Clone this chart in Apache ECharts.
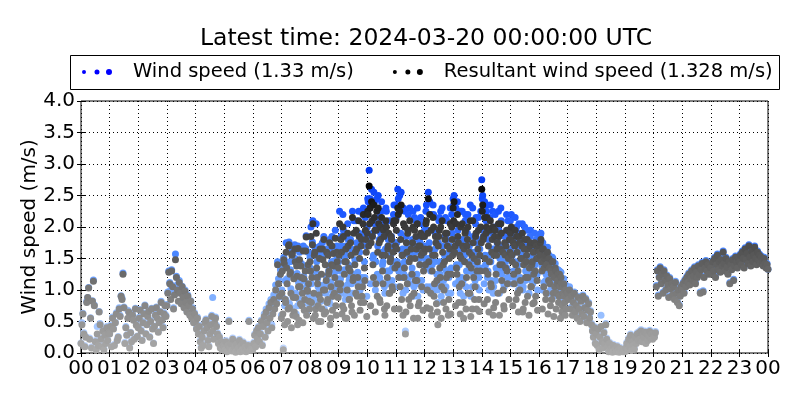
<!DOCTYPE html>
<html>
<head>
<meta charset="utf-8">
<script src="https://cdn.jsdelivr.net/npm/echarts@6/dist/echarts.min.js"></script>
<style>html,body{margin:0;padding:0;background:#fff}#c{width:800px;height:400px}</style>
</head>
<body>
<div id="c"></div>
<script>
// Sampling step of the readings (minutes), starting at 00:00
const stepMinutes = 2;
// Extra readings at the odd minutes of the busy daytime hours (07:01 ... 16:59)
const oddStartHour = 7;
const hourTickLabels = ['00','01','02','03','04','05','06','07','08','09','10','11','12','13','14','15','16','17','18','19','20','21','22','23','00'];
const titleText = 'Latest time: 2024-03-20 00:00:00 UTC';
const windName = 'Wind speed (1.33 m/s)';
const resultantName = 'Resultant wind speed (1.328 m/s)';

// Wind speed (m/s), every 2 minutes, one row per hour (00 ... 23), then 24:00
const windSpeed = [
  0.16,0.48,0.63,0.32,0.12,0.26,0.82,0.88,1.04,0.24,0.56,0.10,0.83,1.16,0.76,0.20,0.07,0.42,0.13,0.66,0.47,0.23,0.12,0.36,0.07,0.30,0.16,0.42,0.21,0.33,
  0.31,0.44,0.12,0.57,0.39,0.14,0.49,0.64,0.22,0.26,0.72,0.60,0.91,0.87,1.27,0.73,0.17,0.42,0.29,0.68,0.66,0.10,0.33,0.20,0.62,0.53,0.24,0.71,0.46,0.27,
  0.41,0.57,0.69,0.37,0.21,0.50,0.63,0.76,0.31,0.47,0.60,0.67,0.26,0.52,0.71,0.40,0.16,0.43,0.62,0.73,0.68,0.34,0.50,0.66,0.82,0.53,0.42,0.64,0.76,0.60,
  0.77,0.97,1.30,1.12,1.00,1.32,1.07,0.72,0.93,1.57,1.22,1.02,1.10,1.15,0.97,0.80,1.06,0.90,0.74,1.00,0.82,0.67,0.92,0.77,0.62,0.83,0.57,0.72,0.50,0.64,
  0.52,0.40,0.57,0.32,0.44,0.20,0.10,0.27,0.14,0.37,0.50,0.54,0.42,0.22,0.12,0.32,0.47,0.60,0.88,0.24,0.50,0.57,0.44,0.32,0.17,0.27,0.10,0.20,0.07,0.14,
  0.12,0.07,0.20,0.04,0.14,0.52,0.10,0.17,0.05,0.24,0.08,0.12,0.03,0.16,0.06,0.10,0.22,0.04,0.14,0.07,0.18,0.05,0.11,0.04,0.08,0.14,0.52,0.06,0.12,0.09,
  0.07,0.17,0.30,0.12,0.37,0.24,0.42,0.20,0.32,0.52,0.14,0.44,0.62,0.27,0.70,0.52,0.38,0.78,0.60,0.85,0.45,0.68,0.92,0.76,1.08,0.85,1.45,1.18,0.98,1.32,
  0.60,1.35,0.08,1.48,1.15,1.75,1.18,0.78,1.76,1.45,1.02,1.62,0.90,1.25,1.72,0.95,1.46,0.75,1.12,1.60,0.85,1.42,1.02,1.70,0.98,1.38,1.86,1.08,1.60,0.90,
  1.52,2.00,1.28,2.10,1.25,1.68,0.78,1.45,1.18,0.85,1.58,0.95,1.50,1.75,1.08,0.70,1.62,1.22,1.10,1.65,1.38,0.78,1.12,1.85,0.98,1.46,1.28,1.05,1.70,1.18,
  1.45,2.25,1.18,1.70,1.05,1.95,1.32,0.85,1.55,1.08,1.80,1.15,1.38,1.65,0.95,1.22,2.10,1.48,1.25,1.75,1.28,2.25,1.60,1.10,1.88,1.12,2.30,1.45,2.15,1.70,
  2.00,2.40,2.90,2.45,1.85,2.35,1.50,2.55,2.05,1.45,2.45,1.70,2.15,1.20,1.90,2.40,1.40,2.05,1.05,1.65,2.25,1.30,1.80,1.30,1.55,2.10,1.15,1.70,2.35,1.45,
  2.35,1.75,2.60,1.30,2.50,1.90,1.20,1.65,2.30,1.45,0.35,1.85,1.20,2.20,1.55,1.10,1.75,1.35,2.25,1.05,1.60,2.10,1.25,0.90,1.80,1.50,2.15,1.15,1.70,1.40,
  1.95,1.50,2.35,1.35,2.55,1.75,1.05,2.20,1.40,2.35,1.00,1.65,1.85,1.25,0.80,2.10,1.45,2.25,1.15,1.70,1.15,1.55,2.15,1.30,1.80,0.95,1.60,2.30,1.35,1.90,
  2.45,2.50,1.80,2.30,1.35,1.95,1.15,1.65,2.25,1.20,1.80,0.90,1.55,2.20,1.30,1.90,1.30,1.70,2.35,1.45,1.05,1.85,1.60,1.15,2.15,1.40,1.75,1.20,1.65,2.25,
  2.75,2.50,1.95,2.40,1.40,2.25,1.20,1.80,1.55,2.35,1.15,1.90,0.95,1.65,2.20,1.35,1.75,1.30,1.95,1.50,2.30,1.25,1.70,1.10,1.85,1.45,2.20,1.20,1.60,1.90,
  2.10,2.20,1.55,1.85,1.20,2.15,1.20,1.70,1.40,2.05,1.10,1.60,1.80,1.00,1.50,2.00,1.30,1.65,1.25,1.75,1.45,1.95,1.15,1.55,1.70,1.15,1.40,1.80,1.25,1.60,
  1.85,1.62,1.90,1.38,1.75,1.12,1.58,1.15,1.48,1.68,1.22,1.42,1.00,1.32,1.52,1.02,1.28,1.42,0.95,1.18,1.32,0.98,1.12,1.28,0.90,1.02,1.18,0.88,1.08,0.98,
  0.97,0.87,1.05,0.72,0.92,0.75,0.82,0.97,0.67,0.77,0.57,0.90,0.72,0.52,0.84,0.64,0.92,0.60,0.74,0.87,0.50,0.70,0.80,0.57,0.67,0.47,0.37,0.27,0.42,0.17,
  0.32,0.14,0.40,0.07,0.27,0.60,0.20,0.10,0.34,0.17,0.47,0.24,0.12,0.04,0.17,0.07,0.10,0.03,0.14,0.05,0.08,0.04,0.12,0.06,0.03,0.09,0.05,0.07,0.04,0.06,
  0.04,0.10,0.17,0.07,0.24,0.12,0.30,0.06,0.20,0.14,0.08,0.27,0.17,0.32,0.22,0.34,0.24,0.37,0.20,0.30,0.27,0.35,0.17,0.32,0.22,0.29,0.36,0.26,0.32,0.24,
  0.32,0.27,0.34,1.07,1.32,0.92,1.22,1.37,1.12,1.27,0.97,1.32,1.17,1.02,1.24,1.10,0.90,1.20,1.04,1.12,0.94,1.07,0.87,1.14,0.97,0.82,1.02,0.77,0.92,1.07,
  1.02,1.12,0.97,1.17,1.07,1.22,1.14,1.27,1.10,1.20,1.32,1.17,1.24,1.37,1.12,1.30,1.22,1.40,1.27,0.97,1.34,1.44,0.99,1.22,1.37,1.47,1.32,1.42,1.27,1.40,
  1.37,1.27,1.47,1.32,1.52,1.22,1.42,1.57,1.34,1.47,1.30,1.50,1.40,1.62,1.44,1.32,1.52,1.38,1.27,1.47,1.12,1.42,1.34,1.50,1.17,1.40,1.54,1.46,1.37,1.52,
  1.47,1.57,1.42,1.62,1.52,1.37,1.67,1.50,1.60,1.44,1.72,1.54,1.40,1.64,1.47,1.57,1.70,1.52,1.42,1.62,1.49,1.57,1.44,1.54,1.47,1.40,1.52,1.44,1.37,1.42,
  1.33
];

// Resultant wind speed (m/s), every 2 minutes, one row per hour (00 ... 23), then 24:00
const resultantSpeed = [
  0.15,0.45,0.62,0.30,0.10,0.25,0.80,0.88,1.03,0.22,0.55,0.08,0.82,1.14,0.75,0.18,0.05,0.30,0.12,0.65,0.45,0.22,0.10,0.35,0.05,0.28,0.15,0.40,0.20,0.32,
  0.30,0.42,0.10,0.55,0.38,0.12,0.48,0.62,0.20,0.25,0.70,0.58,0.90,0.85,1.25,0.72,0.15,0.40,0.28,0.55,0.65,0.08,0.32,0.18,0.60,0.52,0.22,0.70,0.44,0.26,
  0.40,0.55,0.68,0.35,0.20,0.48,0.62,0.75,0.30,0.45,0.58,0.66,0.25,0.50,0.70,0.38,0.15,0.42,0.60,0.72,0.55,0.33,0.48,0.65,0.80,0.52,0.40,0.62,0.75,0.58,
  0.75,0.95,1.28,1.10,0.85,1.30,1.05,0.70,0.92,1.48,1.20,1.00,0.82,1.12,0.95,0.78,1.05,0.88,0.72,0.98,0.80,0.65,0.90,0.75,0.60,0.82,0.55,0.70,0.48,0.62,
  0.50,0.38,0.55,0.30,0.42,0.18,0.08,0.25,0.12,0.35,0.48,0.52,0.40,0.20,0.10,0.30,0.45,0.58,0.35,0.22,0.48,0.55,0.42,0.30,0.15,0.25,0.08,0.18,0.05,0.12,
  0.10,0.05,0.18,0.02,0.12,0.50,0.08,0.15,0.03,0.22,0.06,0.10,0.01,0.14,0.04,0.08,0.20,0.02,0.12,0.05,0.16,0.03,0.09,0.02,0.06,0.12,0.50,0.04,0.10,0.07,
  0.05,0.15,0.28,0.10,0.35,0.22,0.40,0.18,0.30,0.50,0.12,0.42,0.58,0.25,0.65,0.48,0.35,0.72,0.55,0.80,0.40,0.62,0.85,0.70,1.00,0.78,1.40,1.10,0.90,1.25,
  0.55,1.30,0.05,1.42,0.85,1.60,1.10,0.70,1.72,1.25,0.95,1.55,0.60,1.18,1.65,0.88,1.38,0.45,1.05,1.48,0.78,1.20,0.95,1.62,0.68,1.30,1.84,1.00,1.40,0.82,
  1.45,1.85,1.20,2.05,0.95,1.60,0.70,1.35,1.10,0.50,1.50,0.85,1.25,1.65,1.00,0.62,1.40,1.15,0.80,1.55,1.30,0.45,1.05,1.70,0.90,1.38,1.20,0.75,1.60,1.10,
  1.35,2.05,1.10,1.60,0.75,1.85,1.25,0.55,1.45,1.00,1.70,0.85,1.30,1.55,0.65,1.15,1.90,1.40,0.95,1.65,1.20,2.10,1.50,0.80,1.80,1.05,2.20,1.35,1.95,1.60,
  1.90,2.20,2.65,2.30,1.75,2.10,1.40,2.35,1.95,1.10,2.25,1.60,2.05,0.85,1.80,2.15,1.30,1.95,0.70,1.55,2.00,1.20,1.70,0.95,1.45,1.85,1.05,1.60,2.10,1.35,
  2.10,1.65,2.30,1.20,2.25,1.80,0.85,1.55,2.05,1.35,0.30,1.75,1.10,1.95,1.45,0.75,1.65,1.25,2.00,0.95,1.50,1.85,1.15,0.55,1.70,1.40,1.90,1.05,1.60,1.30,
  1.85,1.40,2.10,1.00,2.45,1.65,0.70,1.95,1.30,2.15,0.90,1.55,1.75,1.15,0.45,1.85,1.35,2.00,1.05,1.60,0.80,1.45,1.90,1.20,1.70,0.60,1.50,2.05,1.25,1.80,
  2.30,2.40,1.70,2.05,1.25,1.85,0.80,1.55,2.00,1.10,1.70,0.55,1.45,1.95,1.20,1.80,0.95,1.60,2.10,1.35,0.70,1.75,1.50,1.05,1.90,1.30,1.65,0.85,1.55,2.00,
  2.60,2.35,1.85,2.15,1.30,2.00,0.85,1.70,1.45,2.10,1.05,1.80,0.60,1.55,1.95,1.25,1.65,0.95,1.85,1.40,2.05,1.15,1.60,0.75,1.75,1.35,1.95,1.10,1.50,1.80,
  1.90,2.00,1.45,1.75,1.10,1.95,0.85,1.60,1.30,1.85,1.00,1.50,1.70,0.65,1.40,1.80,1.20,1.55,0.90,1.65,1.35,1.75,1.05,1.45,1.60,0.80,1.30,1.70,1.15,1.50,
  1.70,1.55,1.80,1.30,1.65,1.05,1.50,0.85,1.40,1.60,1.15,1.35,0.75,1.25,1.45,0.95,1.20,1.35,0.70,1.10,1.25,0.90,1.05,1.20,0.65,0.95,1.10,0.80,1.00,0.90,
  0.95,0.85,1.00,0.70,0.90,0.60,0.80,0.95,0.65,0.75,0.55,0.88,0.70,0.50,0.82,0.62,0.90,0.58,0.72,0.85,0.48,0.68,0.78,0.55,0.65,0.45,0.35,0.25,0.40,0.15,
  0.30,0.12,0.38,0.05,0.25,0.42,0.18,0.08,0.32,0.15,0.45,0.22,0.10,0.02,0.15,0.05,0.08,0.01,0.12,0.03,0.06,0.02,0.10,0.04,0.01,0.07,0.03,0.05,0.02,0.04,
  0.02,0.08,0.15,0.05,0.22,0.10,0.28,0.04,0.18,0.12,0.06,0.25,0.15,0.30,0.20,0.32,0.22,0.35,0.18,0.28,0.25,0.33,0.15,0.30,0.20,0.27,0.34,0.24,0.30,0.22,
  0.30,0.25,0.32,1.05,1.30,0.90,1.20,1.35,1.10,1.25,0.95,1.30,1.15,1.00,1.22,1.08,0.88,1.18,1.02,1.10,0.92,1.05,0.85,1.12,0.95,0.80,1.00,0.75,0.90,1.05,
  1.00,1.10,0.95,1.15,1.05,1.20,1.12,1.25,1.08,1.18,1.30,1.15,1.22,1.35,1.10,1.28,1.20,1.38,1.25,0.95,1.32,1.42,0.97,1.20,1.35,1.45,1.30,1.40,1.25,1.38,
  1.35,1.25,1.45,1.30,1.50,1.20,1.40,1.55,1.32,1.45,1.28,1.48,1.38,1.60,1.42,1.30,1.50,1.36,1.25,1.45,1.10,1.40,1.32,1.48,1.15,1.38,1.52,1.44,1.35,1.50,
  1.45,1.55,1.40,1.60,1.50,1.35,1.65,1.48,1.58,1.42,1.70,1.52,1.38,1.62,1.45,1.55,1.68,1.50,1.40,1.60,1.47,1.55,1.42,1.52,1.45,1.38,1.50,1.42,1.35,1.40,
  1.328
];

// Wind speed (m/s) at the odd minutes 07:01 ... 16:59, one row per hour
const windSpeedOddMinutes = [
  1.00,0.88,1.52,0.75,0.85,1.40,0.80,1.74,0.78,1.32,0.72,1.62,0.92,0.95,1.50,0.62,1.26,1.70,0.85,1.10,1.42,0.80,0.78,1.22,1.15,1.66,0.65,1.02,1.35,0.75,
  1.35,1.10,1.76,0.85,1.60,0.92,2.05,1.25,1.05,0.97,1.70,0.82,1.00,1.52,1.85,1.05,0.95,1.65,1.15,1.30,1.80,0.88,1.45,0.98,1.62,1.00,1.95,0.92,1.50,0.93,
  1.60,1.30,1.85,0.95,2.20,1.05,1.50,1.70,0.90,2.05,1.40,1.20,1.80,1.10,2.25,1.25,0.95,1.65,2.10,1.25,1.10,1.90,1.00,1.75,1.20,2.20,1.15,1.20,1.85,0.90,
  2.45,1.75,2.30,1.10,2.60,1.90,1.55,2.40,1.00,2.00,1.25,2.50,1.80,1.15,2.25,1.60,1.45,1.90,0.95,2.30,1.10,1.70,2.10,1.30,1.55,1.85,1.35,2.20,1.05,1.75,
  2.15,1.45,2.45,1.05,1.40,2.55,1.60,0.95,1.25,2.25,1.00,1.65,1.95,1.20,2.30,1.55,1.25,1.80,0.90,2.15,1.20,1.70,2.30,1.10,1.15,1.75,1.60,2.05,1.00,1.65,
  1.70,2.25,1.05,1.95,1.50,2.40,1.30,0.95,1.60,2.20,1.45,1.90,1.10,1.00,1.75,2.15,1.25,0.90,2.30,1.45,1.35,1.85,1.05,2.10,1.30,1.20,1.70,0.95,2.20,1.60,
  2.35,1.65,1.10,1.40,2.40,1.80,1.40,0.95,1.55,2.25,1.15,1.70,2.10,1.05,1.75,2.20,1.45,1.30,0.90,1.60,2.30,1.25,1.20,2.05,1.05,1.50,2.15,1.00,1.35,1.80,
  2.45,1.85,1.10,1.55,2.10,2.35,1.30,1.00,2.15,1.45,1.65,2.25,1.05,2.00,1.15,1.60,1.80,2.25,0.95,1.70,2.10,1.45,1.35,1.05,1.60,1.75,1.35,2.10,1.20,1.65,
  1.95,1.60,1.10,1.30,1.75,1.45,2.00,1.30,1.00,1.90,1.20,1.55,2.05,1.05,1.70,1.15,1.50,1.95,1.25,0.95,1.85,1.40,1.45,1.10,1.30,1.90,1.25,1.55,1.00,1.70,
  1.65,1.88,1.50,1.00,1.70,1.40,1.60,1.25,1.45,0.95,1.55,1.40,1.35,1.15,1.50,0.90,1.35,1.35,1.25,1.20,1.10,1.30,0.85,1.15,1.00,1.10,0.98,0.90,0.95,1.00
];

// Resultant wind speed (m/s) at the odd minutes 07:01 ... 16:59, one row per hour
const resultantSpeedOddMinutes = [
  0.95,0.62,1.48,0.45,0.80,1.35,0.50,1.70,0.72,1.28,0.40,1.58,0.88,0.65,1.45,0.58,1.22,1.66,0.52,1.05,1.38,0.75,0.48,1.18,0.85,1.62,0.60,0.98,1.10,0.70,
  1.30,0.80,1.72,0.55,1.55,0.60,1.90,1.20,0.75,0.92,1.65,0.50,0.70,1.48,1.80,1.00,0.65,1.60,0.85,1.25,1.75,0.55,1.40,0.68,1.58,0.95,1.82,0.60,1.45,0.88,
  1.55,1.00,1.80,0.62,2.00,0.70,1.45,1.65,0.55,1.90,1.35,0.85,1.75,0.75,2.15,1.20,0.60,1.60,1.95,0.90,1.05,1.85,0.68,1.70,0.90,2.05,0.80,1.15,1.80,0.58,
  2.25,1.70,2.05,0.75,2.40,1.85,1.20,2.15,0.65,1.95,0.90,2.30,1.75,0.80,2.00,1.55,1.10,1.85,0.60,2.10,0.75,1.65,1.90,0.95,1.50,1.80,1.00,2.05,0.70,1.70,
  1.95,1.40,2.20,0.70,1.05,2.35,1.55,0.60,1.20,2.00,0.65,1.60,1.90,0.85,2.10,1.50,0.90,1.75,0.55,1.95,1.15,1.65,2.05,0.75,0.80,1.70,1.55,1.85,0.68,1.60,
  1.65,2.05,0.72,1.90,1.45,2.20,0.95,0.60,1.55,2.00,1.10,1.85,0.78,0.65,1.70,1.95,1.20,0.55,2.10,1.40,1.00,1.80,0.70,1.90,1.25,0.85,1.65,0.62,2.00,1.55,
  2.10,1.60,0.75,1.35,2.20,1.75,1.05,0.62,1.50,2.05,0.80,1.65,1.90,0.70,1.70,2.00,1.40,0.95,0.58,1.55,2.10,1.20,0.85,1.85,0.70,1.45,1.95,0.66,1.30,1.75,
  2.25,1.80,0.78,1.50,1.90,2.15,1.25,0.65,1.95,1.10,1.60,2.00,0.72,1.85,0.80,1.55,1.75,2.05,0.60,1.65,1.90,1.40,1.00,0.70,1.55,1.70,1.30,1.95,0.85,1.60,
  1.80,1.55,0.75,1.25,1.70,1.40,1.85,0.95,0.65,1.75,1.15,1.50,1.90,0.70,1.65,0.80,1.45,1.80,1.20,0.60,1.70,1.05,1.40,0.78,1.25,1.75,0.90,1.50,0.68,1.65,
  1.60,1.75,1.45,0.70,1.65,1.35,1.55,0.95,1.40,0.62,1.50,1.10,1.30,0.85,1.45,0.58,1.05,1.30,0.95,1.15,0.80,1.25,0.55,1.10,0.75,1.05,0.90,0.60,0.70,0.95
];

function toPoints(values) {
  return values.map((v, i) => [i * stepMinutes / 60, v]);
}
function toOddPoints(values) {
  return values.map((v, i) => [oddStartHour + (i * stepMinutes + 1) / 60, v]);
}
function byTime(a, b) { return a[0] - b[0]; }

const FONT = 'DejaVu Sans';
const chart = echarts.init(document.getElementById('c'), null, {renderer: 'canvas'});

const dotsIcon = 'path://M1,0a2,2 0 1,0 4,0a2,2 0 1,0 -4,0ZM13.5,0a2.5,2.5 0 1,0 5,0a2.5,2.5 0 1,0 -5,0ZM25,0a3,3 0 1,0 6,0a3,3 0 1,0 -6,0Z';

chart.setOption({
  animation: false,
  backgroundColor: '#fff',
  title: {
    text: titleText,
    left: 421, textAlign: 'center',
    top: 22,
    textStyle: {fontFamily: FONT, fontSize: 23.5, fontWeight: 'normal', color: '#000'}
  },
  legend: {
    left: 82, top: 62, padding: 0,
    itemWidth: 30, itemHeight: 6, itemGap: 39,
    icon: dotsIcon,
    textStyle: {fontFamily: FONT, fontSize: 19.5, color: '#000', padding: [0, 0, 0, 16]},
    data: [
      {name: windName, itemStyle: {color: '#0000ff'}},
      {name: resultantName, itemStyle: {color: '#000000'}}
    ]
  },
  graphic: [{
    type: 'rect', silent: true, z: -1,
    shape: {x: 70.5, y: 55.5, width: 709, height: 34},
    style: {fill: '#fff', stroke: '#000', lineWidth: 1}
  }],
  grid: {left: 81, right: 32, top: 101, bottom: 47, show: true, borderColor: '#000', borderWidth: 1, backgroundColor: 'transparent'},
  visualMap: [
    {type: 'continuous', show: false, seriesIndex: 0, dimension: 1, min: 0, max: 3,
     inRange: {color: ['#c8dcff', '#8cb8ff', '#4f8cff', '#1a55ff', '#0033ee']}},
    {type: 'continuous', show: false, seriesIndex: 1, dimension: 1, min: 0, max: 2.7,
     inRange: {color: ['#ababab', '#8a8a8a', '#646464', '#383838', '#000000']}}
  ],
  xAxis: [{
    type: 'value', min: 0, max: 24, interval: 1, position: 'bottom',
    axisLine: {show: false},
    axisTick: {show: true, inside: true, length: 4, lineStyle: {color: '#000'}},
    axisLabel: {fontFamily: FONT, fontSize: 20, color: '#000', margin: 6,
      formatter: v => hourTickLabels[Math.round(v)]},
    splitLine: {show: true, lineStyle: {color: '#000', type: [1, 3], width: 1}}
  }, {
    type: 'value', min: 0, max: 24, interval: 1, position: 'top',
    axisLine: {show: false},
    axisTick: {show: true, inside: true, length: 4, lineStyle: {color: '#000'}},
    axisLabel: {show: false}, splitLine: {show: false}
  }],
  yAxis: [{
    type: 'value', min: 0, max: 4, interval: 0.5, position: 'left',
    name: 'Wind speed (m/s)', nameLocation: 'middle', nameGap: 41, nameMoveOverlap: false,
    nameTextStyle: {fontFamily: FONT, fontSize: 20, color: '#000'},
    axisLine: {show: false},
    axisTick: {show: true, inside: true, length: 4, lineStyle: {color: '#000'}},
    axisLabel: {fontFamily: FONT, fontSize: 20, color: '#000', margin: 6,
      formatter: v => v.toFixed(1)},
    splitLine: {show: true, lineStyle: {color: '#000', type: [1, 3], width: 1}}
  }, {
    type: 'value', min: 0, max: 4, interval: 0.5, position: 'right',
    axisLine: {show: false},
    axisTick: {show: true, inside: true, length: 4, lineStyle: {color: '#000'}},
    axisLabel: {show: false}, splitLine: {show: false}
  }],
  series: [{
    name: windName, type: 'scatter', symbol: 'circle', symbolSize: 7,
    itemStyle: {color: '#0000ff', opacity: 1},
    data: toPoints(windSpeed).concat(toOddPoints(windSpeedOddMinutes)).sort(byTime), z: 2
  }, {
    name: resultantName, type: 'scatter', symbol: 'circle', symbolSize: 7,
    itemStyle: {color: '#000000', opacity: 1},
    data: toPoints(resultantSpeed).concat(toOddPoints(resultantSpeedOddMinutes)).sort(byTime), z: 3
  }]
});
</script>
</body>
</html>
